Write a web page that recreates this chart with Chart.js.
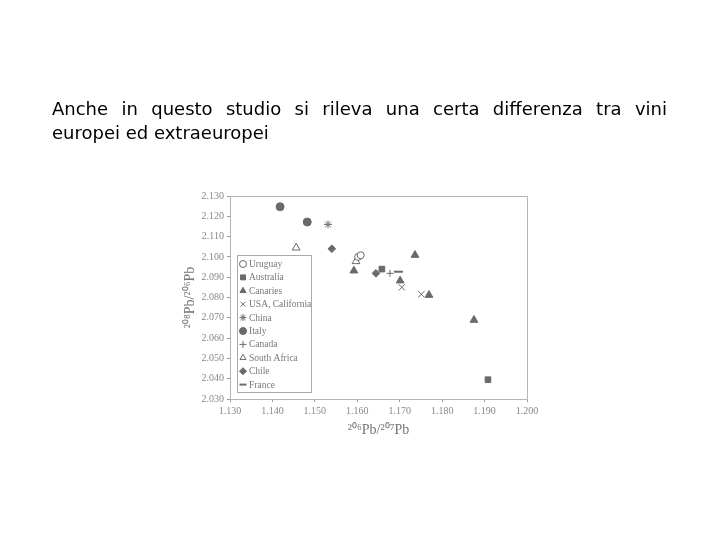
<!DOCTYPE html>
<html>
<head>
<meta charset="utf-8">
<script src="https://cdn.jsdelivr.net/npm/chart.js@4/dist/chart.umd.min.js"></script>
<style>
  html, body { margin: 0; padding: 0; background: #fff; }
  #wrap { position: relative; width: 720px; height: 540px; }
  #myChart { position: absolute; left: 0; top: 0; }
  .head {
    position: absolute; left: 52px; width: 615px;
    font-family: "Comic Sans MS", "DejaVu Sans", sans-serif;
    font-size: 18px; color: #000; line-height: 23px;
  }
  #l1 { top: 97px; text-align: justify; text-align-last: justify; }
  #l2 { top: 121px; text-align: left; }
</style>
</head>
<body>
<div id="wrap">
  <canvas id="myChart" width="720" height="540"></canvas>
  <div class="head" id="l1">Anche in questo studio si rileva una certa differenza tra vini</div>
  <div class="head" id="l2">europei ed extraeuropei</div>
</div>
<script>
(() => {
  'use strict'

  // series: x = 206Pb/207Pb, y = 208Pb/206Pb
  const countries = ['Uruguay', 'Australia', 'Canaries', 'USA, California', 'China',
    'Italy', 'Canada', 'South Africa', 'Chile', 'France']

  const uruguayX = [1.1602, 1.1608]
  const uruguayY = [2.1000, 2.1008]
  const australiaX = [1.1658, 1.1908]
  const australiaY = [2.0940, 2.0395]
  const canariesX = [1.1592, 1.1736, 1.1701, 1.1769, 1.1875]
  const canariesY = [2.0932, 2.1009, 2.0883, 2.0812, 2.0689]
  const usaX = [1.1705, 1.1751]
  const usaY = [2.0850, 2.0816]
  const chinaX = [1.1531]
  const chinaY = [2.1160]
  const italyX = [1.1418, 1.1482]
  const italyY = [2.1247, 2.1172]
  const canadaX = [1.1677]
  const canadaY = [2.0919]
  const southAfricaX = [1.1456, 1.1597]
  const southAfricaY = [2.1045, 2.0978]
  const chileX = [1.1540, 1.1644]
  const chileY = [2.1040, 2.0919]
  const franceX = [1.1697]
  const franceY = [2.0927]

  const xTicks = [1.130, 1.140, 1.150, 1.160, 1.170, 1.180, 1.190, 1.200]
  const yTicks = [2.030, 2.040, 2.050, 2.060, 2.070, 2.080, 2.090, 2.100, 2.110, 2.120, 2.130]

  const grey = '#6a6a6a'
  const pts = (xs, ys) => xs.map((x, i) => ({ x: x, y: ys[i] }))

  const styles = [
    { style: 'circle', open: true, r: 3.5 },
    { style: 'rect', open: false, r: 4 },
    { style: 'triangle', open: false, r: 4.5 },
    { style: 'crossRot', open: true, r: 4.5 },
    { style: 'star', open: true, r: 4 },
    { style: 'circle', open: false, r: 4 },
    { style: 'cross', open: true, r: 3.5 },
    { style: 'triangle', open: true, r: 4.5 },
    { style: 'rectRot', open: false, r: 3.8 },
    { style: 'line', open: true, r: 4.5 }
  ]
  const series = [
    pts(uruguayX, uruguayY), pts(australiaX, australiaY), pts(canariesX, canariesY),
    pts(usaX, usaY), pts(chinaX, chinaY), pts(italyX, italyY), pts(canadaX, canadaY),
    pts(southAfricaX, southAfricaY), pts(chileX, chileY), pts(franceX, franceY)
  ]

  const datasets = countries.map((name, i) => ({
    label: name,
    data: series[i],
    pointStyle: styles[i].style,
    pointRadius: styles[i].r,
    pointHoverRadius: styles[i].r,
    borderWidth: styles[i].style === 'line' ? 2 : 1,
    borderColor: grey,
    backgroundColor: styles[i].open ? '#fff' : grey
  }))

  // frame round the plot area and the inset legend
  const framePlugin = {
    id: 'frame',
    afterDraw(chart) {
      const c = chart.ctx
      const a = chart.chartArea
      c.save()
      c.strokeStyle = '#b5b5b5'
      c.lineWidth = 1
      c.strokeRect(a.left + 0.5, a.top + 0.5, a.right - a.left, a.bottom - a.top)

      // legend box
      const bx = 237, by = 255, bw = 74, bh = 137
      c.fillStyle = '#fff'
      c.fillRect(bx, by, bw, bh)
      c.strokeStyle = '#aaa'
      c.strokeRect(bx + 0.5, by + 0.5, bw, bh)
      c.font = '9.5px "Liberation Serif", serif'
      c.textBaseline = 'middle'
      chart.data.datasets.forEach((ds, i) => {
        const y = 264 + i * 13.4
        c.fillStyle = ds.backgroundColor
        c.strokeStyle = ds.borderColor
        c.lineWidth = ds.borderWidth
        const r = Math.min(ds.pointRadius, 3.5)
        if (Chart.helpers && Chart.helpers.drawPoint) {
          Chart.helpers.drawPoint(c, { pointStyle: ds.pointStyle, radius: r, borderWidth: ds.borderWidth, rotation: 0 }, 243, y)
        }
        c.fillStyle = '#777'
        c.fillText(ds.label, 249, y + 0.5)
      })
      c.restore()
    }
  }

  const tickFont = { family: '"Liberation Serif", serif', size: 10 }
  const titleFont = { family: '"Liberation Serif", serif', size: 14 }

  const ctx = document.getElementById('myChart')
  // eslint-disable-next-line no-unused-vars
  const myChart = new Chart(ctx, {
    type: 'scatter',
    data: { datasets: datasets },
    plugins: [framePlugin],
    options: {
      responsive: false,
      animation: false,
      layout: { padding: { left: 178, top: 196, right: 193, bottom: 97 } },
      plugins: {
        legend: { display: false },
        tooltip: { enabled: false }
      },
      scales: {
        x: {
          type: 'linear',
          min: xTicks[0],
          max: xTicks[xTicks.length - 1],
          afterFit(scale) { scale.height = 44 },
          afterBuildTicks(scale) { scale.ticks = xTicks.map(v => ({ value: v })) },
          ticks: { font: tickFont, color: '#888', padding: 3, callback: v => v.toFixed(3) },
          grid: { drawOnChartArea: false, tickLength: 3, color: '#999' },
          border: { color: '#999' },
          title: { display: true, text: '²⁰⁶Pb/²⁰⁷Pb', font: titleFont, color: '#777' }
        },
        y: {
          type: 'linear',
          min: yTicks[0],
          max: yTicks[yTicks.length - 1],
          afterFit(scale) { scale.width = 52 },
          afterBuildTicks(scale) { scale.ticks = yTicks.map(v => ({ value: v })) },
          ticks: { font: tickFont, color: '#888', padding: 3, callback: v => v.toFixed(3) },
          grid: { drawOnChartArea: false, tickLength: 3, color: '#999' },
          border: { color: '#999' },
          title: { display: true, text: '²⁰⁸Pb/²⁰⁶Pb', font: titleFont, color: '#777' }
        }
      }
    }
  })
})()
</script>
</body>
</html>
